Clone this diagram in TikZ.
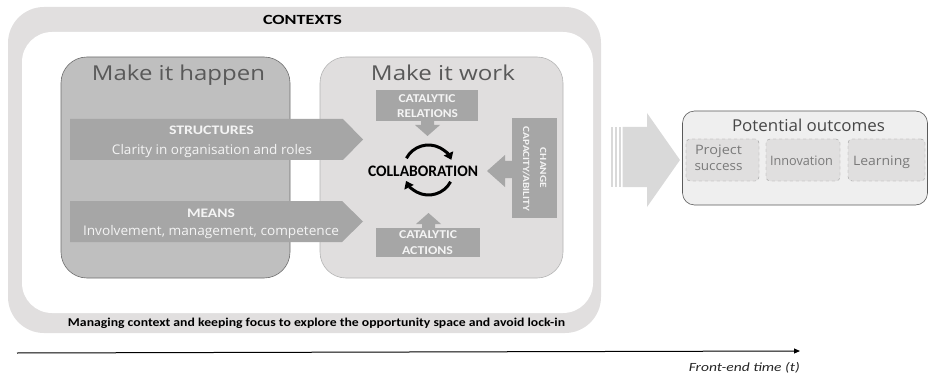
\documentclass[tikz,border=0pt]{standalone}
\usepackage{fontspec}
\usepackage{graphicx}
\setmainfont{Carlito}
\newfontfamily\segoe{Open Sans}
\usetikzlibrary{arrows.meta}
\definecolor{ctxgray}{HTML}{E1DFDF}
\definecolor{happenfill}{HTML}{BFBFBF}
\definecolor{happendraw}{HTML}{6E6E6E}
\definecolor{workfill}{HTML}{E0DEDE}
\definecolor{workdraw}{HTML}{B5B5B5}
\definecolor{arrowfill}{HTML}{A6A6A6}
\definecolor{lighttext}{HTML}{F4F4F4}
\definecolor{titletext}{HTML}{595959}
\definecolor{outfill}{HTML}{EFEFEF}
\definecolor{outdraw}{HTML}{5A5A5A}
\definecolor{itemfill}{HTML}{E0DFDF}
\definecolor{itemdraw}{HTML}{9A9A9A}
\definecolor{itemtext}{HTML}{7A7A7A}
\definecolor{bigarrow}{HTML}{D9D9D9}
\newcommand{\fitto}[2]{\resizebox{#1pt}{\height}{#2}}
\tikzset{
  fs/.style={font=\fontsize{#1}{#1}\selectfont},
  txt/.style={inner sep=0pt, anchor=base},
  bigtitle/.style={txt, text=titletext, font=\segoe\fontsize{20.5}{20.5}\selectfont},
  lightbold/.style={txt, text=lighttext, font=\bfseries\fontsize{13}{13}\selectfont},
  lightdesc/.style={txt, text=lighttext, font=\segoe\fontsize{13.3}{13.3}\selectfont},
  cattext/.style={txt, text=lighttext, font=\bfseries\fontsize{12}{12}\selectfont},
  chgtext/.style={txt, text=lighttext, font=\bfseries\fontsize{9.5}{9.5}\selectfont, rotate=-90},
  catbox/.style={fill=arrowfill, draw=none, inner sep=0pt},
  item/.style={fill=itemfill, draw=itemdraw, dashed, rounded corners=4pt, inner sep=0pt},
  itemtxt/.style={txt, text=itemtext, font=\segoe\fontsize{13}{13}\selectfont},
  cyc/.style={line width=3pt, -{Triangle[length=7pt,width=10pt]}},
}
\begin{document}
\begin{tikzpicture}[x=1pt,y=-1pt]
\useasboundingbox (0,0) rectangle (929,377);
% contexts frame
\fill[ctxgray, rounded corners=36pt] (8,7) rectangle (601,333);
\fill[white, rounded corners=30pt] (22,32) rectangle (593,313);
\node[txt, font=\bfseries\fontsize{14}{14}\selectfont] (ctx) at (302.5,24.5) {\fitto{79}{CONTEXTS}};
\node[txt, font=\bfseries\fontsize{12}{12}\selectfont] (manage) at (316.5,326.7) {\fitto{497}{Managing context and keeping focus to explore the opportunity space and avoid lock-in}};
% make it happen
\node[fill=happenfill, draw=happendraw, line width=0.6pt, rounded corners=26pt, minimum width=229pt, minimum height=221pt, inner sep=0pt] (happen) at (175.5,167.5) {};
\node[bigtitle] (happent) at (178.5,80.7) {\fitto{173}{Make it happen}};
% make it work
\node[fill=workfill, draw=workdraw, line width=0.6pt, rounded corners=26pt, minimum width=243pt, minimum height=221pt, inner sep=0pt] (work) at (441.5,167.5) {};
\node[bigtitle] (workt) at (443,80.7) {\fitto{144}{Make it work}};
% structures arrow
\fill[arrowfill] (70,119) -- (343,119) -- (363,139.5) -- (343,160) -- (70,160) -- cycle;
\node[lightbold] (struct) at (211.5,135) {\fitto{85}{STRUCTURES}};
\node[lightdesc] (structd) at (212,154.3) {\fitto{200}{Clarity in organisation and roles}};
% means arrow
\fill[arrowfill] (70,201) -- (342,201) -- (363,221.5) -- (342,242) -- (70,242) -- cycle;
\node[lightbold] (means) at (211,217.3) {\fitto{48}{MEANS}};
\node[lightdesc] (meansd) at (211,235) {\fitto{256}{Involvement, management, competence}};
% catalytic relations
\node[catbox, minimum width=102pt, minimum height=31pt] (rel) at (427,105.5) {};
\node[cattext] (rel1) at (427,102.7) {\fitto{57}{CATALYTIC}};
\node[cattext] (rel2) at (427.5,117.3) {\fitto{61}{RELATIONS}};
\fill[arrowfill] (421,121) -- (434,121) -- (434,125) -- (440,125) -- (427.5,136) -- (415,125) -- (421,125) -- cycle;
% catalytic actions
\node[catbox, minimum width=104pt, minimum height=29pt] (act) at (428,242.5) {};
\node[cattext] (act1) at (428,238.3) {\fitto{58}{CATALYTIC}};
\node[cattext] (act2) at (427.5,254) {\fitto{51}{ACTIONS}};
\fill[arrowfill] (422,228) -- (435,228) -- (435,224) -- (441,224) -- (428.5,213) -- (416,224) -- (422,224) -- cycle;
% change capacity
\node[catbox, minimum width=45pt, minimum height=100pt] (chg) at (534.5,168) {};
\node[chgtext] (chg1) at (540,168) {\fitto{40}{CHANGE}};
\node[chgtext] (chg2) at (523,169) {\fitto{84}{CAPACITY/ABILITY}};
\fill[arrowfill] (512,161) -- (505,161) -- (505,155) -- (487,171) -- (505,187) -- (505,178) -- (512,178) -- cycle;
% collaboration
\coordinate (cc) at (428.5,170);
\draw[cyc] ([shift={(-152:25)}]cc) arc[start angle=-152, end angle=-24, radius=25];
\draw[cyc] ([shift={(28:25)}]cc) arc[start angle=28, end angle=154, radius=25];
\node[txt, font=\bfseries\fontsize{16}{16}\selectfont] (collab) at (423,176.5) {\fitto{110}{COLLABORATION}};
% big arrow
\fill[bigarrow] (610.5,127) rectangle (612.5,187);
\fill[bigarrow] (614.5,127) rectangle (617,187);
\fill[bigarrow] (618.5,127) rectangle (621,187);
\fill[bigarrow] (622.5,127) -- (647,127) -- (647,113) -- (680,160) -- (647,207) -- (647,187) -- (622.5,187) -- cycle;
% potential outcomes
\node[fill=outfill, draw=outdraw, line width=0.6pt, rounded corners=12pt, minimum width=245pt, minimum height=94pt, inner sep=0pt] (out) at (805,158) {};
\node[txt, text=titletext!80!black, font=\segoe\fontsize{16.4}{16.4}\selectfont] (outt) at (808.5,131.7) {\fitto{153}{Potential outcomes}};
\node[item, minimum width=73pt, minimum height=42pt] (ps) at (722.5,160) {};
\node[itemtxt] (ps1) at (718.5,154.5) {\fitto{47}{Project}};
\node[itemtxt] (ps2) at (718.5,170.5) {\fitto{48}{success}};
\node[item, minimum width=74pt, minimum height=42pt] (inno) at (803,160) {};
\node[itemtxt] (innot) at (801.5,165) {\fitto{63}{Innovation}};
\node[item, minimum width=77pt, minimum height=42pt] (learn) at (886.5,160) {};
\node[itemtxt] (learnt) at (881.5,165) {\fitto{57}{Learning}};
% timeline
\coordinate (t0) at (17,353);
\coordinate (t1) at (800,351);
\draw[line width=1pt, -{Triangle[length=6pt,width=5pt]}] (t0) -- (t1);
\node[txt, anchor=base east, font=\itshape\fontsize{12.5}{12.5}\selectfont, text=black!85] (time) at (800,371) {\fitto{111}{Front-end time (t)}};
\end{tikzpicture}
\end{document}
